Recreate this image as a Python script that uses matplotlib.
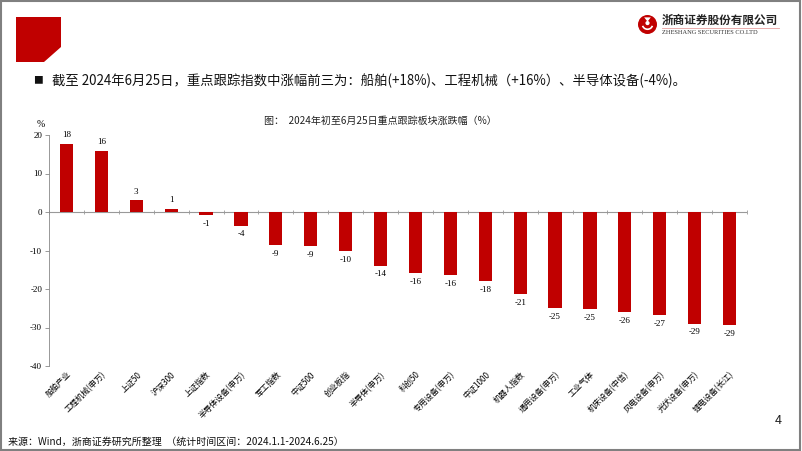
import matplotlib.pyplot as plt
from matplotlib.patches import Polygon, Rectangle, Circle, Arc
import numpy as np

plt.rcParams['font.family'] = ['Noto Sans CJK SC', 'DejaVu Sans']

# data
categories = ['船舶产业', '工程机械(申万)', '上证50', '沪深300', '上证指数', '半导体设备(申万)',
              '军工指数', '中证500', '创业板指', '半导体(申万)', '科创50', '专用设备(申万)',
              '中证1000', '机器人指数', '通用设备(申万)', '工业气体', '机床设备(中信)',
              '风电设备(申万)', '光伏设备(申万)', '锂电设备(长江)']
changes = [17.7, 15.9, 3.0, 0.8, -0.9, -3.6, -8.7, -8.9, -10.2, -13.9, -15.9, -16.4,
           -17.9, -21.4, -25.0, -25.2, -26.0, -26.8, -29.0, -29.4]
y_ticks = [20, 10, 0, -10, -20, -30, -40]

red = '#C00000'
serif = ['Liberation Serif', 'DejaVu Serif']

fig = plt.figure(figsize=(8.02, 4.51), dpi=100)

# slide frame
fig.patches.append(Rectangle((0.001, 0.002), 0.997, 0.995, transform=fig.transFigure,
                             fill=False, edgecolor='#808080', linewidth=1.5))

# red corner block
fig.patches.append(Polygon([(16/802, 1-17/451), (61/802, 1-17/451), (61/802, 1-47/451),
                            (44/802, 1-62/451), (16/802, 1-62/451)], closed=True,
                           transform=fig.transFigure, facecolor=red, edgecolor='none'))

# logo
lax = fig.add_axes([638/802, 1-34/451, 19/802, 19/451])
lax.set_xlim(-1, 1)
lax.set_ylim(-1, 1)
lax.set_aspect('equal')
lax.axis('off')
lax.add_patch(Circle((0, 0), 1.0, facecolor=red, edgecolor='none'))
lax.add_patch(Arc((0, 0.05), 1.1, 1.1, theta1=200, theta2=340, color='white', linewidth=1.2))
lax.add_patch(Circle((0, 0.15), 0.22, facecolor='white', edgecolor='none'))
lax.add_patch(Polygon([(-0.35, 0.75), (0.35, 0.75), (0, 0.3)], facecolor='white', edgecolor='none'))

fig.text(662/802, 1-20/451, '浙商证券股份有限公司', fontsize=8.4, fontweight='bold',
         ha='left', va='center', color='#222222')
fig.add_artist(plt.Line2D([662/802, 779/802], [1-28/451, 1-28/451],
                          transform=fig.transFigure, color='#E8A0A0', linewidth=0.6))
fig.text(662/802, 1-33/451, 'ZHESHANG SECURITIES CO.LTD', fontsize=4.6, family=serif,
         ha='left', va='center', color='#333333')

# headline
fig.text(33/802, 1-80/451, '■', fontsize=7, ha='left', va='center', color='#111111')
fig.text(52/802, 1-81/451, '截至 2024年6月25日，重点跟踪指数中涨幅前三为：船舶(+18%)、工程机械（+16%）、半导体设备(-4%)。',
         fontsize=9.6, ha='left', va='center', color='#111111')

# chart title
fig.text(380/802, 1-121/451, '图：  2024年初至6月25日重点跟踪板块涨跌幅（%）',
         fontsize=7.2, ha='center', va='center', color='#222222')

ax = fig.add_axes([49/802, 1-366/451, 698/802, 231/451])
x = np.arange(len(categories))
bars = ax.bar(x, changes, width=0.38, color=red, zorder=2)

for bar, v in zip(bars, changes):
    xc = bar.get_x() + bar.get_width() / 2
    if v >= 0:
        ax.text(xc, v + 1.2, f'{round(v):.0f}', ha='center', va='bottom', fontsize=6.5, family=serif)
    else:
        ax.text(xc, v - 1.2, f'{round(v):.0f}', ha='center', va='top', fontsize=6.5, family=serif)

ax.set_xlim(-0.5, len(categories) - 0.5)
ax.set_ylim(-40, 20)
ax.set_yticks(y_ticks)
ax.set_yticklabels([str(t) for t in y_ticks], family=serif, fontsize=6.5)
ax.tick_params(axis='y', length=3, width=0.6, color='#888888', pad=2)

ax.set_xticks(x)
ax.set_xticklabels(categories, rotation=45, ha='right', rotation_mode='anchor', fontsize=5.8)
ax.tick_params(axis='x', length=0, pad=3)

for side in ['top', 'right', 'bottom']:
    ax.spines[side].set_visible(False)
ax.spines['left'].set_color('#888888')
ax.spines['left'].set_linewidth(0.6)

# zero line with category boundary ticks
ax.axhline(0, color='#999999', linewidth=0.8, zorder=1)
boundaries = np.arange(len(categories) + 1) - 0.5
ax.plot(boundaries, np.zeros(len(boundaries)), linestyle='none', marker='|', markersize=3,
        color='#999999', markeredgewidth=0.6, zorder=1)

ax.text(-0.75, 21.5, '%', fontsize=7, family=serif, ha='center', va='bottom')

# footer
fig.text(8/802, 1-442/451, '来源：Wind，浙商证券研究所整理  （统计时间区间：2024.1.1-2024.6.25）',
         fontsize=7.2, ha='left', va='center', color='#111111')
fig.text(778/802, 1-421/451, '4', fontsize=9, ha='center', va='center', color='#222222')

fig.savefig('out.png', dpi=100)
